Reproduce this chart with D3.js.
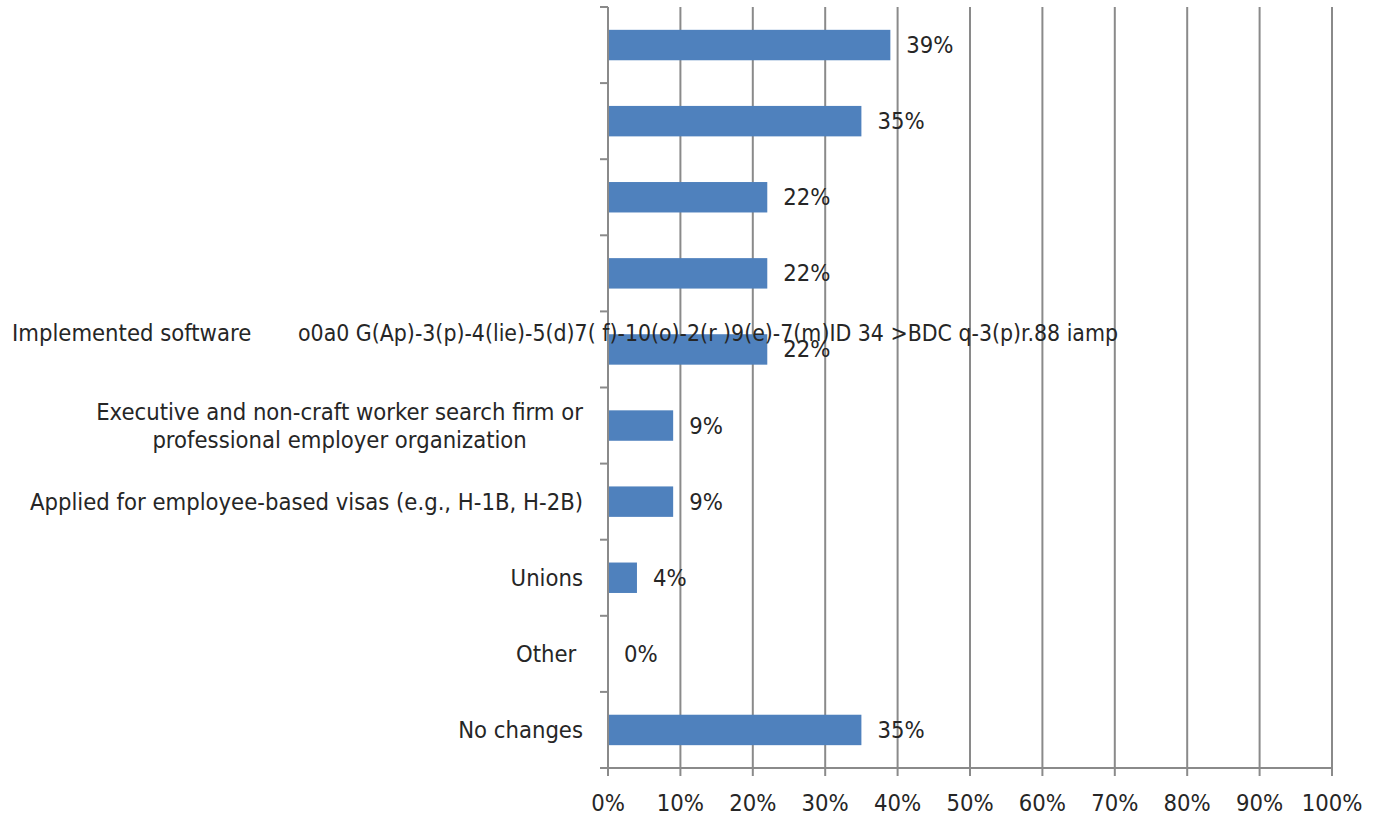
<!DOCTYPE html>
<html>
<head>
<meta charset="utf-8">
<script src="https://cdn.jsdelivr.net/npm/d3@7"></script>
<style>
  body { margin: 0; background: #fff; }
  svg text { font-family: "Liberation Sans Narrow", "DejaVu Sans Condensed", sans-serif; fill: #262626; }
</style>
</head>
<body>
<svg id="chart" width="1382" height="818"></svg>
<script>
// categories top to bottom; the top four have no label in the source
const categories = [
  "", "", "", "",
  "Implemented software     o0a0 G(Ap)-3(p)-4(lie)-5(d)7( f)-10(o)-2(r )9(e)-7(m)ID 34 >BDC q-3(p)r.88 iamp",
  "Executive and non-craft worker search firm or|professional employer organization",
  "Applied for employee-based visas (e.g., H-1B, H-2B)",
  "Unions",
  "Other ",
  "No changes"
];
const values = [39, 35, 22, 22, 22, 9, 9, 4, 0, 35];
const xTicks = [0, 10, 20, 30, 40, 50, 60, 70, 80, 90, 100];

const svg = d3.select("#chart");
const plotLeft = 608, plotRight = 1332, plotTop = 7, plotBottom = 768;
const fontSize = 23.6;
const gridColor = "#8a8a8a";

const x = d3.scaleLinear().domain([0, 100]).range([plotLeft, plotRight]);
const y = d3.scaleBand().domain(d3.range(categories.length)).range([plotTop, plotBottom]).paddingInner(0.6).paddingOuter(0.3);
const band = (plotBottom - plotTop) / categories.length;

// vertical gridlines
svg.append("g")
  .selectAll("line")
  .data(xTicks.slice(1))
  .join("line")
  .attr("x1", d => x(d)).attr("x2", d => x(d))
  .attr("y1", plotTop).attr("y2", plotBottom)
  .attr("stroke", gridColor).attr("stroke-width", 2);

// bars
svg.append("g")
  .selectAll("rect")
  .data(values)
  .join("rect")
  .attr("x", x(0))
  .attr("y", (d, i) => y(i))
  .attr("width", d => x(d) - x(0))
  .attr("height", y.bandwidth())
  .attr("fill", "#4f81bd");

// value labels
svg.append("g")
  .selectAll("text")
  .data(values)
  .join("text")
  .attr("x", d => x(d) + 16)
  .attr("y", (d, i) => y(i) + y.bandwidth() / 2)
  .attr("dominant-baseline", "central")
  .attr("font-size", fontSize)
  .text(d => d + "%");

// y axis line + ticks at band edges
svg.append("line")
  .attr("x1", plotLeft).attr("x2", plotLeft)
  .attr("y1", plotTop).attr("y2", plotBottom + 8)
  .attr("stroke", gridColor).attr("stroke-width", 2);
svg.append("g")
  .selectAll("line")
  .data(d3.range(categories.length + 1))
  .join("line")
  .attr("x1", plotLeft - 8).attr("x2", plotLeft)
  .attr("y1", i => plotTop + i * band).attr("y2", i => plotTop + i * band)
  .attr("stroke", gridColor).attr("stroke-width", 2);

// x axis line + ticks
svg.append("line")
  .attr("x1", plotLeft - 8).attr("x2", plotRight)
  .attr("y1", plotBottom).attr("y2", plotBottom)
  .attr("stroke", gridColor).attr("stroke-width", 2);
svg.append("g")
  .selectAll("line")
  .data(xTicks)
  .join("line")
  .attr("x1", d => x(d)).attr("x2", d => x(d))
  .attr("y1", plotBottom).attr("y2", plotBottom + 8)
  .attr("stroke", gridColor).attr("stroke-width", 2);
svg.append("g")
  .selectAll("text")
  .data(xTicks)
  .join("text")
  .attr("x", d => x(d))
  .attr("y", 803)
  .attr("text-anchor", "middle")
  .attr("dominant-baseline", "central")
  .attr("font-size", fontSize)
  .text(d => d + "%");

// category labels
categories.forEach((c, i) => {
  if (!c) return;
  const cy = y(i) + y.bandwidth() / 2;
  if (c.startsWith("Implemented")) {
    // garbled label runs over the plot in the source
    const parts = c.split(/\s{2,}/);
    const t = svg.append("text")
      .attr("y", cy - 16)
      .attr("dominant-baseline", "central")
      .attr("font-size", fontSize);
    t.append("tspan").attr("x", 12).text(parts[0]);
    t.append("tspan").attr("x", 298)
      .attr("textLength", 820)
      .attr("lengthAdjust", "spacingAndGlyphs")
      .text(parts[1]);
    return;
  }
  const lines = c.split("|");
  const t = svg.append("text")
    .attr("text-anchor", "end")
    .attr("font-size", fontSize)
    .style("white-space", "pre");
  const first = t.append("tspan")
    .attr("x", 583)
    .attr("y", cy - (lines.length - 1) * 14)
    .attr("dominant-baseline", "central")
    .text(lines[0]);
  if (lines.length > 1) {
    const w = first.node().getComputedTextLength();
    t.append("tspan")
      .attr("x", 583 - w / 2)
      .attr("y", cy + 14)
      .attr("text-anchor", "middle")
      .attr("dominant-baseline", "central")
      .text(lines[1]);
  }
});
</script>
</body>
</html>
